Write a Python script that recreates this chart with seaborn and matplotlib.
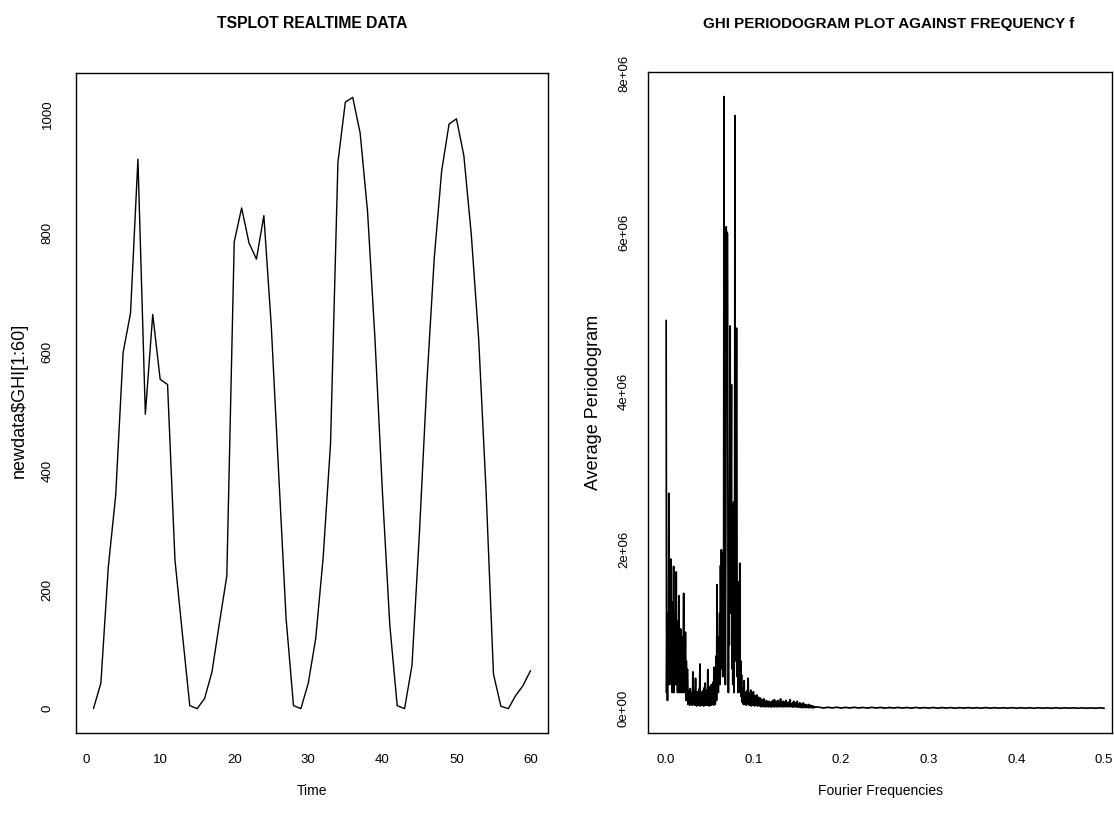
import numpy as np
import pandas as pd
import matplotlib
matplotlib.use("Agg")
import matplotlib.pyplot as plt
import seaborn as sns

# ---------------- data ----------------
time_idx = list(range(1, 61))
ghi_values = [0, 43, 238, 359, 599, 665, 924, 495, 663, 554,
              545, 250, 126, 5, 0, 17, 62, 144, 223, 785,
              842, 783, 756, 829, 644, 396, 152, 5, 0, 43,
              118, 253, 445, 919, 1020, 1028, 968, 836, 622, 366,
              141, 5, 0, 73, 295, 547, 757, 904, 983, 992,
              930, 798, 622, 366, 58, 4, 0, 22, 39, 64]

# periodogram values in units of 1e5, Fourier frequencies 0.0005 .. 0.17 (step 0.0005)
pgram_low = [
    # 0.0005 - 0.025
    48.9, 2, 12, 1, 11, 4, 27.1, 3, 12, 18.8,
    5, 18.8, 3, 12, 2, 13.4, 6, 17.9, 2, 11,
    4, 12, 3, 17.2, 5, 11, 2, 10, 4, 14.2,
    2, 10, 3, 10.0, 2, 9, 3, 9, 2, 8,
    14.5, 2, 7, 3, 9.6, 1, 6, 2, 5, 4.9,
    # 0.0255 - 0.058
    0.5, 2.2, 0.6, 1.8, 0.4, 2.5, 0.7, 1.5, 0.5, 2.0,
    0.4, 4.6, 0.5, 1.8, 0.6, 2.3, 0.4, 3.8, 0.5, 1.6,
    0.3, 2.1, 0.6, 1.4, 0.4, 2.4, 0.5, 5.6, 0.3, 1.9,
    0.6, 1.5, 0.4, 2.2, 0.5, 1.7, 0.3, 2.6, 0.5, 3.2,
    0.4, 1.8, 0.6, 2.3, 0.4, 4.9, 0.5, 2.0, 0.3, 2.7,
    0.6, 1.9, 0.4, 3.0, 0.5, 2.4, 0.7, 3.3, 0.4, 5.2,
    0.8, 3.6, 0.5, 4.4, 6.6, 1.0,
    # 0.0585 - 0.0895
    15.6, 3, 8, 2, 9, 4, 12, 3, 18, 5,
    20, 6, 14, 4, 19.6, 8, 77.1, 10, 25, 3,
    20, 60.7, 45, 60, 59.8, 20, 2, 16, 8, 28,
    48.2, 12, 26, 40.8, 5, 22, 3, 18, 26, 2,
    12, 74.7, 6, 15, 47.9, 47.9, 4, 16, 2, 10,
    3, 8, 18.3, 2, 6, 1.5, 4.2, 0.8, 2.5, 0.6,
    1.8, 0.5, 3.5,
    # 0.090 - 0.120
    0.5, 2.0, 0.6, 1.6, 0.4, 2.2, 0.7, 1.4, 3.8, 0.5,
    1.7, 0.4, 1.9, 0.6, 2.3, 0.3, 1.5, 0.5, 1.8, 0.4,
    2.1, 0.6, 1.3, 0.3, 1.6, 0.5, 1.2, 0.4, 1.7, 0.3,
    1.1, 0.5, 1.4, 0.3, 1.0, 0.4, 1.3, 0.2, 0.9, 0.4,
    1.1, 0.3, 0.8, 0.2, 1.2, 0.3, 0.9, 0.2, 0.7, 0.3,
    1.0, 0.2, 0.8, 0.3, 0.6, 0.2, 0.9, 0.3, 0.7, 0.2,
    0.8,
    # 0.1205 - 0.170
    0.2, 0.8, 0.3, 1.0, 0.2, 0.6, 0.3, 1.1, 0.2, 0.7,
    0.3, 0.9, 0.2, 0.5, 0.3, 1.0, 0.2, 0.6, 0.3, 0.8,
    0.2, 1.2, 0.3, 0.7, 0.2, 0.5, 0.3, 0.9, 0.2, 0.6,
    0.3, 0.8, 0.2, 1.0, 0.3, 0.5, 0.2, 0.7, 0.3, 0.8,
    0.2, 0.6, 0.3, 1.1, 0.2, 0.6, 0.3, 0.5, 0.2, 0.7,
    0.2, 0.9, 0.2, 0.5, 0.3, 0.7, 0.2, 0.5, 0.2, 0.9,
    0.2, 0.6, 0.2, 0.5, 0.2, 0.7, 0.2, 0.5, 0.1, 0.6,
    0.2, 0.4, 0.1, 0.7, 0.2, 0.4, 0.1, 0.4, 0.2, 0.5,
    0.1, 0.4, 0.2, 0.3, 0.1, 0.5, 0.1, 0.3, 0.2, 0.4,
    0.1, 0.3, 0.1, 0.3, 0.1, 0.3, 0.1, 0.2, 0.1, 0.2,
]
# periodogram values in units of 1e5, frequencies 0.175 .. 0.5 (step 0.005)
pgram_tail = [
    0.15, 0.05, 0.14, 0.06, 0.15, 0.04, 0.13, 0.05, 0.14, 0.05,
    0.12, 0.04, 0.13, 0.05, 0.12, 0.04, 0.11, 0.05, 0.12, 0.04,
    0.11, 0.03, 0.12, 0.04, 0.1, 0.04, 0.11, 0.03, 0.1, 0.04,
    0.1, 0.03, 0.09, 0.04, 0.1, 0.03, 0.09, 0.03, 0.1, 0.03,
    0.09, 0.03, 0.08, 0.03, 0.09, 0.02, 0.08, 0.03, 0.08, 0.02,
    0.08, 0.03, 0.07, 0.02, 0.08, 0.02, 0.07, 0.03, 0.07, 0.02,
    0.07, 0.02, 0.06, 0.02, 0.07, 0.02,
]
freq_low = np.arange(1, len(pgram_low) + 1) * 0.0005
freq_tail = 0.175 + np.arange(len(pgram_tail)) * 0.005

left_xticks = [0, 10, 20, 30, 40, 50, 60]
left_yticks = [0, 200, 400, 600, 800, 1000]
right_xticks = [0.0, 0.1, 0.2, 0.3, 0.4, 0.5]
right_xticklabels = ["0.0", "0.1", "0.2", "0.3", "0.4", "0.5"]
right_yticks = [0, 2e6, 4e6, 6e6, 8e6]
right_yticklabels = ["0e+00", "2e+06", "4e+06", "6e+06", "8e+06"]

ts_df = pd.DataFrame({"Time": time_idx, "GHI": ghi_values})
pg_df = pd.DataFrame({
    "freq": np.concatenate([freq_low, freq_tail]),
    "pgram": np.concatenate([pgram_low, pgram_tail]) * 1e5,
})

# ---------------- style ----------------
sns.set_style("white")
plt.rcParams["font.family"] = ["Liberation Sans", "DejaVu Sans"]
plt.rcParams["text.color"] = "black"

W, H = 1114, 831
fig = plt.figure(figsize=(W / 100, H / 100), dpi=100)


def box(l, t, r, b):
    return [l / W, 1 - b / H, (r - l) / W, (b - t) / H]


ax1 = fig.add_axes(box(76, 73, 548, 733))
ax2 = fig.add_axes(box(648, 72, 1112, 733))

sns.lineplot(data=ts_df, x="Time", y="GHI", ax=ax1, color="black",
             linewidth=1.0, estimator=None, sort=False)
sns.lineplot(data=pg_df, x="freq", y="pgram", ax=ax2, color="black",
             linewidth=1.25, estimator=None, sort=False)

ax1.set_xlim(-1.36, 62.36)
ax1.set_ylim(-41, 1069)
ax2.set_xlim(-0.0202, 0.509)
ax2.set_ylim(-0.31e6, 8.02e6)

ax1.set_xticks(left_xticks)
ax1.set_yticks(left_yticks)
ax1.set_xticklabels([str(v) for v in left_xticks])
ax1.set_yticklabels([str(v) for v in left_yticks])
ax2.set_xticks(right_xticks)
ax2.set_xticklabels(right_xticklabels)
ax2.set_yticks(right_yticks)
ax2.set_yticklabels(right_yticklabels)

for ax, ypad in ((ax1, 10), (ax2, 7)):
    for s in ax.spines.values():
        s.set_visible(True)
        s.set_color("black")
        s.set_linewidth(1.0)
    ax.tick_params(axis="both", direction="out", length=6, width=0.9,
                   color="black", labelsize=9.5, labelcolor="black")
    ax.tick_params(axis="x", pad=9)
    ax.tick_params(axis="y", pad=ypad)
    for lbl in ax.get_yticklabels():
        lbl.set_rotation(90)
        lbl.set_va("center")
        lbl.set_ha("right")
    ax.grid(False)
    ax.set_xlabel("")
    ax.set_ylabel("")

# titles
fig.text(312 / W, 1 - 24 / H, "TSPLOT REALTIME DATA", ha="center", va="center",
         fontsize=11.3, fontweight="bold", color="black")
fig.text(889 / W, 1 - 24 / H, "GHI PERIODOGRAM PLOT AGAINST FREQUENCY f",
         ha="center", va="center", fontsize=10.9, fontweight="bold", color="black")

# axis labels
fig.text(312 / W, 1 - 791 / H, "Time", ha="center", va="center",
         fontsize=10, color="black")
fig.text(880 / W, 1 - 791 / H, "Fourier Frequencies", ha="center", va="center",
         fontsize=10, color="black")
fig.text(19 / W, 1 - 400 / H, "newdata$GHI[1:60]", ha="center", va="center",
         rotation=90, fontsize=13, color="black")
fig.text(593 / W, 1 - 402 / H, "Average Periodogram", ha="center", va="center",
         rotation=90, fontsize=13, color="black")

fig.savefig("out.png", dpi=100, facecolor="white")
